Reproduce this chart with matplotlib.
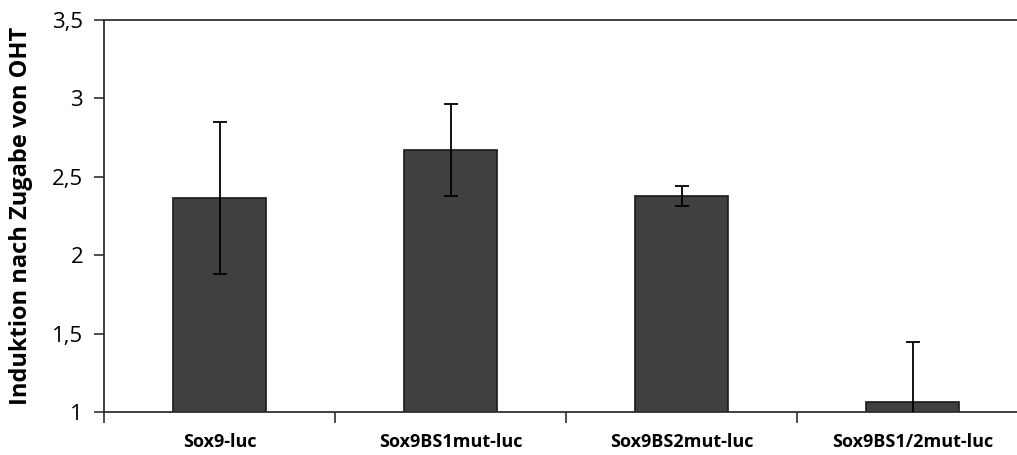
import numpy as np
import matplotlib.pyplot as plt
from matplotlib.ticker import FuncFormatter, FixedLocator

# Daten
konstrukte = ['Sox9-luc', 'Sox9BS1mut-luc', 'Sox9BS2mut-luc', 'Sox9BS1/2mut-luc']
induktion = [2.365, 2.67, 2.378, 1.064]
fehler = [0.485, 0.295, 0.062, 0.385]

plt.rcParams['font.family'] = ['Open Sans', 'DejaVu Sans']

fig = plt.figure(figsize=(10.17, 4.55), dpi=100)
# Achse reicht rechts etwas über das Bild hinaus (wie im Original beschnitten)
ax = fig.add_axes([104/1017, (455-412)/455, 924/1017, 392/455])

x = np.arange(len(konstrukte)) + 0.5
ax.bar(x, np.array(induktion) - 1, bottom=1, width=0.4, color='#404040',
       edgecolor='#1a1a1a', linewidth=1.2, zorder=2)
ax.errorbar(x, induktion, yerr=fehler, fmt='none', ecolor='black',
            elinewidth=1.3, capsize=5, capthick=1.3, zorder=3)

ax.set_xlim(0, 4)
ax.set_ylim(1, 3.5)
ax.set_yticks(np.arange(1, 3.51, 0.5))
ax.yaxis.set_major_formatter(FuncFormatter(lambda v, p: f'{v:g}'.replace('.', ',')))

ax.xaxis.set_major_locator(FixedLocator([0, 1, 2, 3, 4]))
ax.xaxis.set_minor_locator(FixedLocator(x))
ax.set_xticklabels([])
ax.set_xticklabels(konstrukte, minor=True, fontweight='bold', fontsize=13)
ax.tick_params(axis='x', which='major', length=8, width=1.2, color='#303030')
ax.tick_params(axis='x', which='minor', length=0, pad=15)
ax.tick_params(axis='y', length=7, width=1.2, color='#303030', labelsize=16, pad=8)

for s in ['left', 'bottom', 'top']:
    ax.spines[s].set_linewidth(1.3)
    ax.spines[s].set_color('#303030')
ax.spines['right'].set_visible(False)

ax.set_ylabel('Induktion nach Zugabe von OHT', fontweight='bold', fontsize=17, labelpad=14)

fig.savefig('out.png', dpi=100)
